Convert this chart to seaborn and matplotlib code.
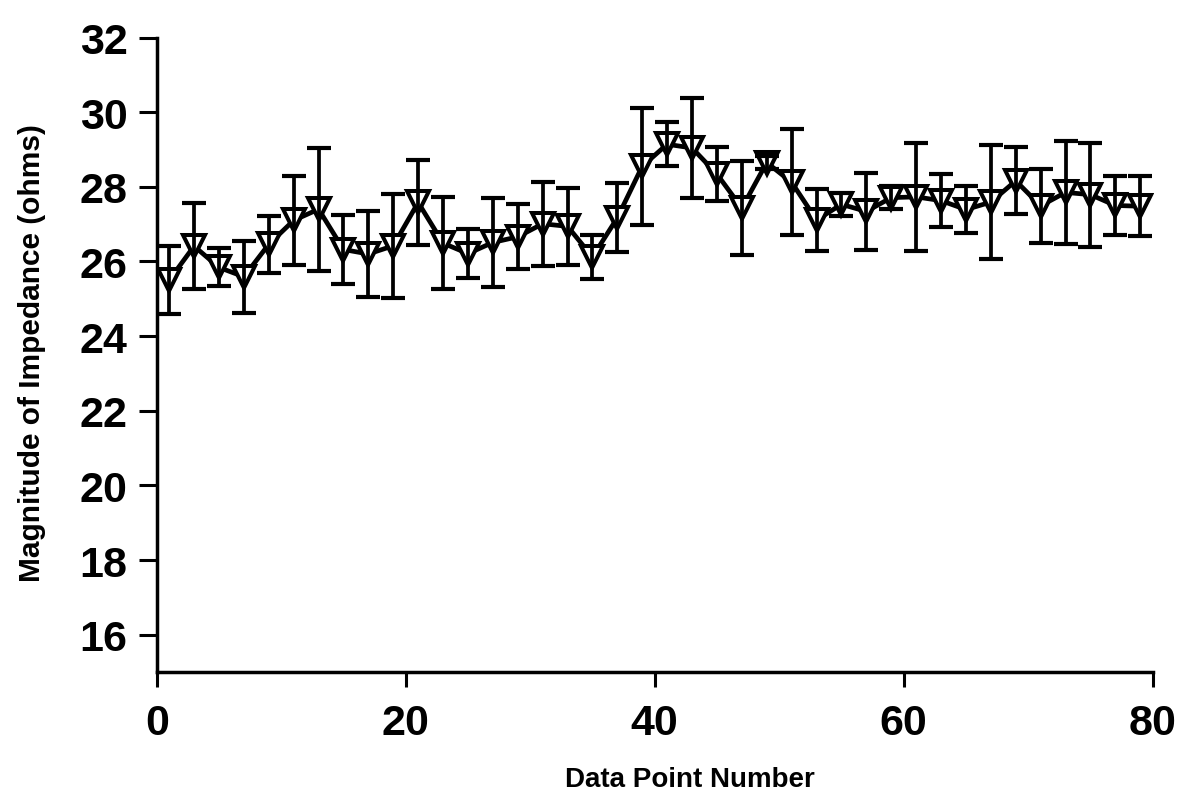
import matplotlib
matplotlib.use("Agg")
import matplotlib.pyplot as plt
import pandas as pd
import seaborn as sns

# Measurement series: odd-numbered data points, mean impedance and its error
point_number = list(range(1, 80, 2))
impedance = [25.50, 26.41, 25.84, 25.59, 26.46, 27.10, 27.40, 26.32, 26.20, 26.42,
             27.58, 26.49, 26.21, 26.51, 26.66, 27.01, 26.94, 26.12, 27.17, 28.55,
             29.14, 29.04, 28.34, 27.43, 28.65, 28.12, 27.11, 27.53, 27.34, 27.71,
             27.73, 27.63, 27.39, 27.59, 28.16, 27.49, 27.85, 27.79, 27.50, 27.48]
error = [0.91, 1.16, 0.51, 0.96, 0.77, 1.19, 1.65, 0.92, 1.15, 1.40,
         1.14, 1.24, 0.66, 1.20, 0.87, 1.13, 1.04, 0.59, 0.92, 1.56,
         0.59, 1.34, 0.73, 1.26, 0.18, 1.42, 0.83, 0.31, 1.04, 0.31,
         1.45, 0.70, 0.64, 1.52, 0.90, 0.99, 1.37, 1.39, 0.79, 0.80]
x_ticks = [0, 20, 40, 60, 80]
y_ticks = [16, 18, 20, 22, 24, 26, 28, 30, 32]

df = pd.DataFrame({"point": point_number, "impedance": impedance, "error": error})

sns.set_theme(style="ticks")
plt.rcParams["font.family"] = ["Liberation Sans", "DejaVu Sans"]

fig = plt.figure(figsize=(11.82, 8.04), dpi=100)
ax = fig.add_axes([0.1326, 0.1629, 0.8426, 0.7892])

sns.lineplot(data=df, x="point", y="impedance", ax=ax, color="black",
             linewidth=3.4, marker="v", markersize=16, markerfacecolor="white",
             markeredgecolor="black", markeredgewidth=2.9, errorbar=None, zorder=3)
ax.errorbar(df["point"], df["impedance"], yerr=df["error"], fmt="none",
            ecolor="black", elinewidth=2.7, capsize=8.5, capthick=3.0, zorder=4)

ax.set_xlim(0, 80)
ax.set_ylim(15, 32)
ax.set_xticks(x_ticks)
ax.set_yticks(y_ticks)
ax.set_xticklabels([str(v) for v in x_ticks])
ax.set_yticklabels([str(v) for v in y_ticks])

for side in ("top", "right"):
    ax.spines[side].set_visible(False)
for side in ("left", "bottom"):
    ax.spines[side].set_linewidth(2.5)
    ax.spines[side].set_color("black")

ax.tick_params(axis="y", labelsize=31, width=2.2, length=13, pad=8, colors="black")
ax.tick_params(axis="x", labelsize=31, width=2.2, length=11, pad=11, colors="black")
for lab in ax.get_xticklabels() + ax.get_yticklabels():
    lab.set_fontweight("bold")

ax.set_xlabel("Data Point Number", fontsize=20, fontweight="bold", color="black")
ax.set_ylabel("Magnitude of Impedance (ohms)", fontsize=21.5, fontweight="bold", color="black")
ax.xaxis.label.set_va("center")
ax.xaxis.set_label_coords(0.535, -0.169)
ax.yaxis.label.set_va("center")
ax.yaxis.set_label_coords(-0.125, 0.504)

fig.savefig("out.png", dpi=100)
